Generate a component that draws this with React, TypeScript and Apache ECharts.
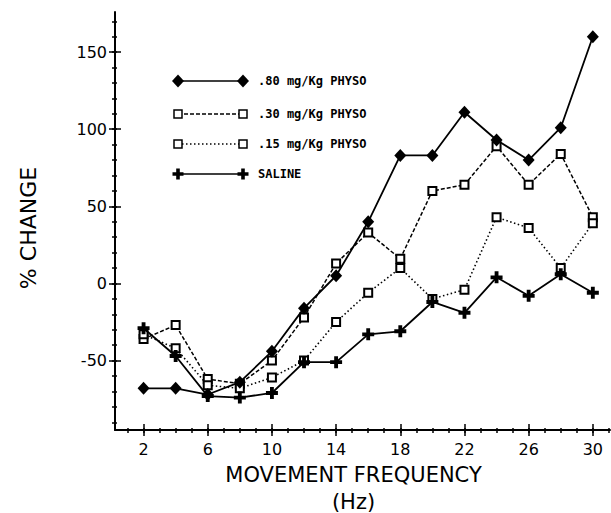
import React, { useEffect, useRef } from "react";
import * as echarts from "echarts";

const freqs = [2, 4, 6, 8, 10, 12, 14, 16, 18, 20, 22, 24, 26, 28, 30];
const dose80 = [-68, -68, -72, -64, -44, -16, 5, 40, 83, 83, 111, 93, 80, 101, 160];
const dose30 = [-36, -27, -62, -65, -50, -22, 13, 33, 16, 60, 64, 89, 64, 84, 43];
const dose15 = [-33, -42, -66, -68, -61, -50, -25, -6, 10, -10, -4, 43, 36, 10, 39];
const saline = [-29, -47, -73, -74, -71, -51, -51, -33, -31, -12, -19, 4, -8, 6, -6];

const seriesNames = [".80 mg/Kg PHYSO", ".30 mg/Kg PHYSO", ".15 mg/Kg PHYSO", "SALINE"];
const xMajorTicks = [2, 6, 10, 14, 18, 22, 26, 30];
const xMinorTicks = Array.from({ length: 31 }, (_, i) => i + 1);
const yMajorTicks = [-50, 0, 50, 100, 150];
const yMinorTicks = [-90, -80, -70, -60, -50, -40, -30, -20, -10, 0, 10, 20, 30, 40, 50, 60, 70, 80, 90, 100, 110, 120, 130, 140, 150, 160, 170];

const X_MIN = 0.22;
const X_MAX = 31.07;
const Y_MIN = -95;
const Y_MAX = 176;

const PLUS = "path://M3.4,0H6.6V3.4H10V6.6H6.6V10H3.4V6.6H0V3.4H3.4Z";

function pair(ys: number[]) {
  return freqs.map((f, i) => [f, ys[i]]);
}

function makeXAxis(ticks: number[], inside: boolean, len: number, labels: boolean, line: boolean) {
  return {
    type: "value",
    min: X_MIN,
    max: X_MAX,
    position: "bottom",
    offset: 0,
    axisLine: { show: line, onZero: false, lineStyle: { color: "#000", width: 2 } },
    axisTick: { show: true, inside, length: len, customValues: ticks, lineStyle: { color: "#000", width: 1.5 } },
    axisLabel: labels
      ? { show: true, customValues: xMajorTicks, margin: 11, color: "#000", fontSize: 16, fontFamily: "DejaVu Sans" }
      : { show: false },
    splitLine: { show: false },
  };
}

function makeYAxis(ticks: number[], inside: boolean, len: number, labels: boolean, line: boolean) {
  return {
    type: "value",
    min: Y_MIN,
    max: Y_MAX,
    position: "left",
    offset: 0,
    axisLine: { show: line, onZero: false, lineStyle: { color: "#000", width: 2 } },
    axisTick: { show: true, inside, length: len, customValues: ticks, lineStyle: { color: "#000", width: 1.5 } },
    axisLabel: labels
      ? { show: true, customValues: yMajorTicks, margin: 8, color: "#000", fontSize: 16, fontFamily: "DejaVu Sans" }
      : { show: false },
    splitLine: { show: false },
  };
}

function legendGraphic() {
  const ys = [81, 114, 144, 174];
  const x1 = 178;
  const x2 = 243;
  const items: any[] = [];
  const dashes: any[] = [null, [4, 2], [1.5, 2.5], null];
  ys.forEach((y, i) => {
    items.push({
      type: "line",
      shape: { x1, y1: y, x2, y2: y },
      style: { stroke: "#000", lineWidth: 1.5, lineDash: dashes[i] || undefined },
      z: 10,
    });
    [x1, x2].forEach((x) => {
      if (i === 0) {
        items.push({
          type: "polygon",
          shape: { points: [[x, y - 6.5], [x + 6, y], [x, y + 6.5], [x - 6, y]] },
          style: { fill: "#000" },
          z: 11,
        });
      } else if (i === 3) {
        const a = 1.8, b = 5.5;
        items.push({
          type: "polygon",
          shape: {
            points: [
              [x - a, y - b], [x + a, y - b], [x + a, y - a], [x + b, y - a], [x + b, y + a], [x + a, y + a],
              [x + a, y + b], [x - a, y + b], [x - a, y + a], [x - b, y + a], [x - b, y - a], [x - a, y - a],
            ],
          },
          style: { fill: "#000" },
          z: 11,
        });
      } else {
        items.push({
          type: "rect",
          shape: { x: x - 4, y: y - 4, width: 8, height: 8 },
          style: { fill: "#fff", stroke: "#000", lineWidth: 1.5 },
          z: 11,
        });
      }
    });
    items.push({
      type: "text",
      x: 258,
      y,
      style: {
        text: seriesNames[i],
        fill: "#000",
        font: "bold 12px 'DejaVu Sans Mono'",
        verticalAlign: "middle",
        align: "left",
      },
      z: 11,
    });
  });
  return items;
}

export default function App() {
  const ref = useRef<HTMLDivElement>(null);
  useEffect(() => {
    if (!ref.current) return;
    const chart = echarts.init(ref.current, undefined, { renderer: "svg" });
    const lineCommon = { type: "line", xAxisIndex: 0, yAxisIndex: 0, showAllSymbol: true };
    chart.setOption({
      animation: false,
      backgroundColor: "#fff",
      grid: { left: 115, right: 1, top: 12, bottom: 83, containLabel: false, outerBoundsMode: "none" },
      xAxis: [
        {
          ...makeXAxis(xMinorTicks, false, 3, true, true),
          name: "MOVEMENT FREQUENCY\n(Hz)",
          nameLocation: "middle",
          nameGap: 27,
          nameTextStyle: {
            color: "#000",
            fontSize: 21,
            fontFamily: "DejaVu Sans",
            lineHeight: 27,
            verticalAlign: "top",
            padding: [0, 18, 0, 0],
          },
        },
        makeXAxis(xMinorTicks, true, 2, false, false),
        makeXAxis(xMajorTicks, true, 6, false, false),
        makeXAxis(xMajorTicks, false, 6, false, false),
      ],
      yAxis: [
        {
          ...makeYAxis(yMinorTicks, false, 3, true, true),
          name: "% CHANGE",
          nameLocation: "middle",
          nameGap: 76,
          nameTextStyle: { color: "#000", fontSize: 22, fontFamily: "DejaVu Sans", padding: [0, 14, 0, 0] },
        },
        makeYAxis(yMinorTicks, true, 2, false, false),
        makeYAxis(yMajorTicks, true, 6, false, false),
        makeYAxis(yMajorTicks, false, 6, false, false),
      ],
      series: [
        {
          ...lineCommon,
          name: seriesNames[0],
          data: pair(dose80),
          symbol: "diamond",
          symbolSize: [12, 13],
          itemStyle: { color: "#000" },
          lineStyle: { color: "#000", width: 1.8, type: "solid" },
          z: 4,
        },
        {
          ...lineCommon,
          name: seriesNames[1],
          data: pair(dose30),
          symbol: "emptyRect",
          symbolSize: 8,
          itemStyle: { color: "#000", borderWidth: 1.5 },
          lineStyle: { color: "#000", width: 1.5, type: [4, 2] },
          z: 3,
        },
        {
          ...lineCommon,
          name: seriesNames[2],
          data: pair(dose15),
          symbol: "emptyRect",
          symbolSize: 8,
          itemStyle: { color: "#000", borderWidth: 1.5 },
          lineStyle: { color: "#000", width: 1.6, type: [1.5, 2.5] },
          z: 3,
        },
        {
          ...lineCommon,
          name: seriesNames[3],
          data: pair(saline),
          symbol: PLUS,
          symbolSize: 12,
          itemStyle: { color: "#000" },
          lineStyle: { color: "#000", width: 1.8, type: "solid" },
          z: 4,
        },
      ],
      graphic: legendGraphic(),
    });
    return () => chart.dispose();
  }, []);
  return <div ref={ref} style={{ width: 611, height: 513, position: "absolute", left: 0, top: 0 }} />;
}
